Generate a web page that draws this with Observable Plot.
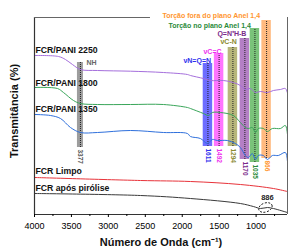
<!DOCTYPE html>
<html><head><meta charset="utf-8">
<script src="https://cdn.jsdelivr.net/npm/d3@7"></script>
<script src="https://cdn.jsdelivr.net/npm/@observablehq/plot@0.6"></script>
<style>body{margin:0;background:#fff;} svg{display:block}</style>
</head><body><div id="chart"></div>
<script>
// ---- data ----
const seriesNames = ["FCR/PANI 2250","FCR/PANI 1800","FCR/PANI 1350","FCR Limpo","FCR após pirólise"];
const seriesColors = ["#a56fdc","#3aa65a","#2f70dc","#e8333a","#3a3a3a"];
const wn2250 = [4000,3675,3581,3486,3378,3148,2701,2255,1930,1889,1713,1619,1443,1308,1213,1145,1078,1010,942,847,766,671,604,577];
const t2250  = [159,158,155,150,145,144,143.3,142,140,139,136,134,134,132,129,125,126,122,123,122,124,125,126,122];
const wn1800 = [4000,3689,3608,3472,3378,3148,2701,2255,1930,1889,1713,1646,1592,1483,1308,1213,1145,1105,1051,1010,969,902,847,780,671,604,577];
const t1800  = [127,126,122,114,111,110,110,110,107,106,101,99,102,102,99,92,87,86,87,82,86,86,83,86,86,89,81];
const wn1350 = [4000,3784,3648,3513,3378,3148,2701,2255,1930,1889,1754,1659,1592,1524,1389,1281,1213,1145,1105,1051,1010,969,902,847,780,699,604,577];
const t1350  = [100,99,96,87,82,82,84,82,81,78,76,71,75,74,74,71,67,59,57,61,55,59,59,55,59,59,62,54];
const wnLimpo = [4000,2566,1889,1213,766,577];
const tLimpo  = [37,34,33,30,26,23];
const wnPiro = [4000,2566,1889,1213,1037,942,847,766,577];
const tPiro  = [21,19,16,11,8,6,7,6,2];
const seriesLabelT = [164,131,105,43,26];

const bandCenters = [3378,1652,1501,1314,1152,1016,858];
const bandWidths  = [81,128,128,128,128,128,128];
const bandTops    = [152,151,161,167,176,186,194];
const bandBottoms = [67,68,68,68,55,52,56];
const bandLabels  = ["3377","1611","1492","1294","1170","1035","866"];
const bandFill    = ["#8c8c8c","#5454ff","#ff5cff","#aaa964","#a768bb","#63b863","#ffae6a"];
const bandTextCol = ["#555555","#3030ee","#ee30ee","#8a8a30","#7a2a8a","#2a8a3a","#ff9630"];

const annTexts = ["NH","νN=Q=N","νC=C","νC-N","Q=N⁺H-B","Torção no plano Anel 1,4","Torção fora do plano Anel 1,4"];
const annWn    = [3296,1984,1713,1483,1524,2187,2268];
const annT     = [152,154,163,173,181,189,199];
const annCol   = ["#666666","#3030ee","#ee30ee","#8a8a30","#7a2a8a","#2a8a3a","#ff9630"];

const majorTicks = [4000,3500,3000,2500,2000,1500,1000];
const minorTicks = [3750,3250,2750,2250,1750,1250,750];
const markWn = [874]; const markT = [7]; const markLabel = ["886"]; const markLabelWn = [847]; const markLabelT = [17];

// ---- tables ----
const wnArr = [wn2250,wn1800,wn1350,wnLimpo,wnPiro];
const tArr = [t2250,t1800,t1350,tLimpo,tPiro];
const rows = seriesNames.flatMap((n,i)=>wnArr[i].map((w,j)=>({name:n, wn:w, t:tArr[i][j]})));
const bands = bandCenters.map((c,i)=>({c, x1:c-bandWidths[i]/2, x2:c+bandWidths[i]/2, top:bandTops[i], bottom:bandBottoms[i], label:bandLabels[i], fill:bandFill[i], tcol:bandTextCol[i]}));
const anns = annTexts.map((t,i)=>({text:t, wn:annWn[i], t:annT[i], col:annCol[i]}));
const sLabels = seriesNames.map((n,i)=>({name:n, t:seriesLabelT[i]}));

const ellipseSymbol = {draw(ctx){ const rx=7, ry=4.5, k=0.5523;
  ctx.moveTo(rx,0); ctx.bezierCurveTo(rx,ry*k,rx*k,ry,0,ry); ctx.bezierCurveTo(-rx*k,ry,-rx,ry*k,-rx,0);
  ctx.bezierCurveTo(-rx,-ry*k,-rx*k,-ry,0,-ry); ctx.bezierCurveTo(rx*k,-ry,rx,-ry*k,rx,0); ctx.closePath(); }};

const chart = Plot.plot({
  width: 296, height: 251,
  marginLeft: 34, marginRight: 9, marginTop: 17, marginBottom: 37,
  style: {fontFamily: "Liberation Sans, Arial, sans-serif", fontSize: "9px", background: "#fff"},
  x: {domain: [4000, 575], label: null},
  y: {domain: [0, 197], axis: null},
  color: {domain: seriesNames, range: seriesColors},
  marks: [
    Plot.rect(bands, {x1:"x1", x2:"x2", y1:"bottom", y2:"top", fill:d=>d.fill, fillOpacity:0.85}),
    Plot.ruleX(bands, {x:"c", y1:"bottom", y2:"top", stroke:"#222", strokeDasharray:"1,1", strokeWidth:1}),
    Plot.line(rows, {x:"wn", y:"t", z:"name", stroke:"name", strokeWidth:1, curve:"catmull-rom"}),
    Plot.text(bands, {x:"c", y:"bottom", text:"label", rotate:90, textAnchor:"start", dx:0, dy:2, fill:d=>d.tcol, fontSize:6.5, fontWeight:"bold"}),
    Plot.text(anns, {x:"wn", y:"t", text:"text", textAnchor:"start", fill:d=>d.col, fontSize:7, fontWeight:"bold"}),
    Plot.text(sLabels, {x:4000, y:"t", text:"name", textAnchor:"start", dx:1, fontSize:8.7, fontWeight:"bold", fill:"#111"}),
    Plot.dot(markWn.map((w,i)=>({wn:w, t:markT[i]})), {x:"wn", y:"t", symbol:ellipseSymbol, rotate:-20, stroke:"#222", strokeDasharray:"2,1.5", fill:"none", strokeWidth:0.9}),
    Plot.text(markLabel.map((l,i)=>({l, wn:markLabelWn[i], t:markLabelT[i]})), {x:"wn", y:"t", text:"l", fontSize:7.5, fontWeight:"bold", fill:"#222"}),
    // frame
    Plot.ruleX([4000], {stroke:"#333", strokeWidth:1.2}),
    Plot.ruleY([0], {stroke:"#333", strokeWidth:1.2}),
    Plot.ruleX([575], {stroke:"#666", strokeWidth:1}),
    Plot.ruleY([{y:197, a:4000, b:2430}], {y:"y", x1:"a", x2:"b", stroke:"#666", strokeWidth:1}),
    Plot.axisX({ticks: majorTicks, tickSize: 3, tickPadding: 5, tickFormat: d=>String(d), label:null, fontSize:9}),
    Plot.axisX({ticks: minorTicks, tickSize: 2, tickFormat: ()=>"", label:null}),
    Plot.text(["Número de Onda (cm⁻¹)"], {frameAnchor:"bottom", dy:28, text:d=>d, fontSize:11, fontWeight:"bold", lineAnchor:"middle", fill:"#111"}),
    Plot.text(["Transmitância (%)"], {frameAnchor:"left", textAnchor:"middle", dx:-20, dy:-5, rotate:-90, text:d=>d, fontSize:11, fontWeight:"bold", fill:"#111"})
  ]
});
document.getElementById("chart").append(chart);
</script>
</body></html>
